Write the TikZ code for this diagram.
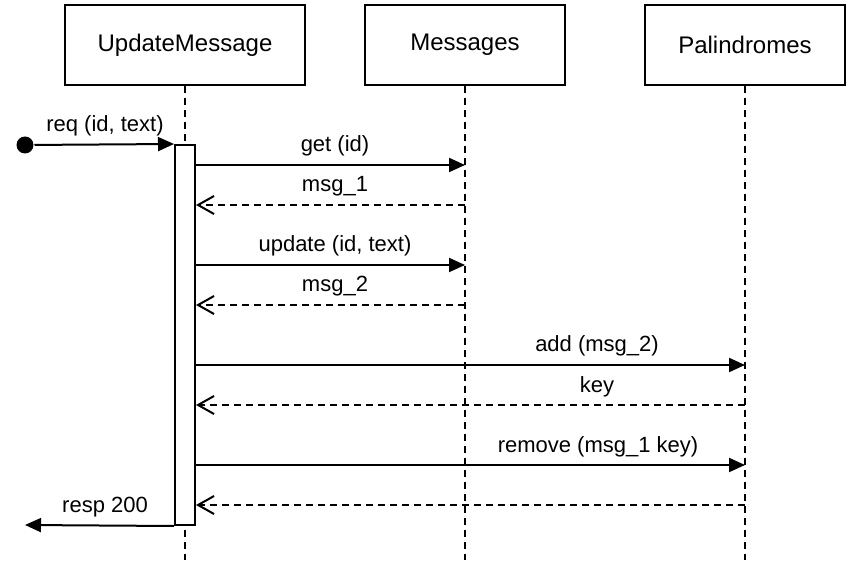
\documentclass[tikz,border=0pt]{standalone}
\usepackage{fontspec}
\setmainfont{Liberation Sans}
\usetikzlibrary{arrows.meta}
\begin{document}
\begin{tikzpicture}[x=1pt,y=-1pt,line width=2pt,
  head/.style={draw,minimum height=80pt,inner sep=0pt,font=\fontsize{24}{28}\selectfont},
  lifeline/.style={dash pattern=on 7pt off 5pt},
  call/.style={-{Triangle[length=16pt,width=14pt]}},
  reply/.style={dash pattern=on 7pt off 5pt,-{Straight Barb[length=16pt,width=18pt]}},
  lbl/.style={inner sep=0pt,anchor=base,font=\fontsize{22}{26}\selectfont}]
\useasboundingbox (0,0) rectangle (852,572);
% headers
\node[head,minimum width=240pt] (um) at (185,45) {UpdateMessage};
\node[head,minimum width=200pt] (ms) at (465,45) {Messages};
\node[head,minimum width=200pt] (pa) at (745,45) {Palindromes};
% lifelines
\coordinate (umE) at (185,560);
\coordinate (msE) at (465,560);
\coordinate (paE) at (745,560);
\draw[lifeline] (um.south) -- (umE);
\draw[lifeline] (ms.south) -- (msE);
\draw[lifeline] (pa.south) -- (paE);
% activation
\node[draw,fill=white,minimum width=20pt,minimum height=380pt,inner sep=0pt] (act) at (185,335) {};
% start
\node[circle,fill,inner sep=0pt,minimum size=17pt] (start) at (25,145) {};
\draw[call] (start) -- (act.north west);
\node[lbl] (lreq) at (105,132) {req (id, text)};
% message endpoints
\coordinate (m1) at (465,165);
\coordinate (m2) at (465,205);
\coordinate (m3) at (465,265);
\coordinate (m4) at (465,305);
\coordinate (m5) at (745,365);
\coordinate (m6) at (745,405);
\coordinate (m7) at (745,465);
\coordinate (m8) at (745,505);
\draw[call] (act.east |- m1) -- (m1);
\node[lbl] (l1) at (335,152) {get (id)};
\draw[reply] (m2) -- (act.east |- m2);
\node[lbl] (l2) at (335,192) {msg\_1};
\draw[call] (act.east |- m3) -- (m3);
\node[lbl] (l3) at (335,252) {update (id, text)};
\draw[reply] (m4) -- (act.east |- m4);
\node[lbl] (l4) at (335,292) {msg\_2};
\draw[call] (act.east |- m5) -- (m5);
\node[lbl] (l5) at (597,352) {add (msg\_2)};
\draw[reply] (m6) -- (act.east |- m6);
\node[lbl] (l6) at (597,392) {key};
\draw[call] (act.east |- m7) -- (m7);
\node[lbl] (l7) at (598,452) {remove (msg\_1 key)};
\draw[reply] (m8) -- (act.east |- m8);
% response
\coordinate (endR) at (25,525);
\draw[call] (act.south west) -- (endR);
\node[lbl] (lresp) at (105,512) {resp 200};
\end{tikzpicture}
\end{document}
